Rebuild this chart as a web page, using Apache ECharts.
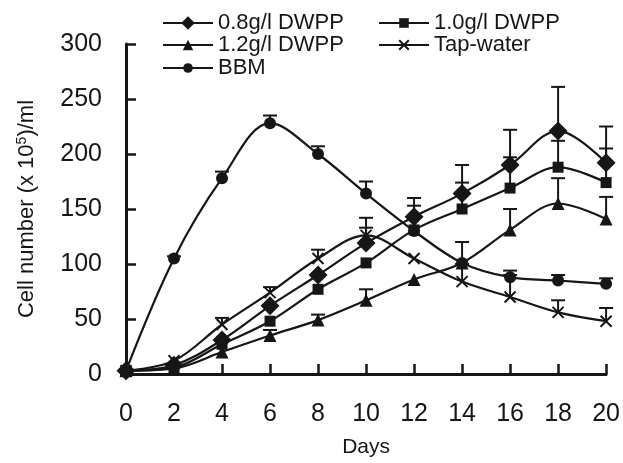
<!DOCTYPE html>
<html>
<head>
<meta charset="utf-8">
<script src="https://cdn.jsdelivr.net/npm/echarts@6/dist/echarts.min.js"></script>
<style>
  html, body { margin: 0; padding: 0; background: #fff; }
  #chart { width: 623px; height: 463px; }
</style>
</head>
<body>
<div id="chart"></div>
<script>
// days and cell numbers (x 10^5 /ml)
var days = [0, 2, 4, 6, 8, 10, 12, 14, 16, 18, 20];
var dwpp08 = [3, 8, 31, 62, 90, 119, 143, 164, 190, 221, 192];
var dwpp10 = [3, 6, 27, 48, 77, 101, 131, 150, 169, 188, 174];
var dwpp12 = [3, 5, 20, 35, 49, 67, 86, 101, 131, 155, 141];
var tapWater = [3, 12, 45, 74, 105, 126, 105, 84, 70, 56, 48];
var bbm = [3, 105, 178, 228, 200, 164, 130, 101, 88, 85, 82];

// top of the error bars (null = no bar visible)
var dwpp08Err = [null, null, null, null, null, 133, 160, 190, 222, 261, 225];
var dwpp10Err = [null, null, null, null, null, null, 153, 174, 197, 212, 205];
var dwpp12Err = [null, null, null, 40, 54, 77, null, null, 150, 178, 161];
var tapErr = [null, null, 51, 79, 113, 142, null, 100, 90, 67, 60];
var bbmErr = [null, 107, 184, 235, 207, 175, null, 120, 94, 90, 87];

var yTicks = [0, 50, 100, 150, 200, 250, 300];

var black = '#161616';
var font = '"Liberation Sans", Arial, sans-serif';
var crossPath = 'path://M0,0L10,10M0,10L10,0';

function pairs(vals) {
    var out = [];
    for (var i = 0; i < days.length; i++) out.push([days[i], vals[i]]);
    return out;
}

function errData(vals, tops) {
    var out = [];
    for (var i = 0; i < days.length; i++) {
        if (tops[i] !== null) out.push([days[i], vals[i], tops[i]]);
    }
    return out;
}

function renderErr(params, api) {
    var p = api.coord([api.value(0), api.value(1)]);
    var t = api.coord([api.value(0), api.value(2)]);
    var st = { stroke: black, lineWidth: 2 };
    return {
        type: 'group',
        children: [
            { type: 'line', shape: { x1: p[0], y1: p[1], x2: t[0], y2: t[1] }, style: st },
            { type: 'line', shape: { x1: t[0] - 7, y1: t[1], x2: t[0] + 7, y2: t[1] }, style: st }
        ]
    };
}

function errSeries(vals, tops) {
    return {
        type: 'custom',
        renderItem: renderErr,
        data: errData(vals, tops),
        encode: { x: 0, y: 1 },
        z: 1,
        silent: true
    };
}

function lineSeries(name, vals, symbol, size, extraItem) {
    return {
        name: name,
        type: 'line',
        data: pairs(vals),
        smooth: 0.35,
        symbol: symbol,
        symbolSize: size,
        showAllSymbol: true,
        lineStyle: { color: black, width: 2.2 },
        itemStyle: Object.assign({ color: black }, extraItem || {}),
        z: 3,
        animation: false
    };
}

function oneLegend(name, left, top, h) {
    return {
        data: [name],
        left: left,
        top: top,
        orient: 'vertical',
        itemWidth: 50,
        itemHeight: h,
        itemGap: 0,
        padding: 0,
        selectedMode: false,
        textStyle: { fontSize: 22, color: black, fontFamily: font, padding: [0, 0, 0, 0] }
    };
}

var chart = echarts.init(document.getElementById('chart'));
chart.setOption({
    backgroundColor: '#fff',
    animation: false,
    legend: [
        oneLegend('0.8g/l DWPP', 162, 12, 17),
        oneLegend('1.2g/l DWPP', 162, 34, 13),
        oneLegend('BBM', 162, 57, 12),
        oneLegend('1.0g/l DWPP', 378, 12, 12),
        oneLegend('Tap-water', 378, 34, 12)
    ],
    grid: { left: 126, right: 16, top: 44, bottom: 80.5, containLabel: false },
    xAxis: {
        type: 'value',
        min: 0,
        max: 20,
        interval: 2,
        name: 'Days',
        nameLocation: 'middle',
        nameGap: 63,
        nameTextStyle: { fontSize: 21, color: black, fontFamily: font },
        axisLine: { lineStyle: { color: black, width: 3 } },
        axisTick: { inside: true, length: 10, lineStyle: { color: black, width: 2.5 } },
        axisLabel: { fontSize: 25, color: black, fontFamily: font, margin: 28 },
        splitLine: { show: false }
    },
    yAxis: {
        type: 'value',
        min: yTicks[0],
        max: yTicks[yTicks.length - 1],
        interval: 50,
        name: 'Cell number (x 10{sup|5})/ml',
        nameLocation: 'middle',
        nameGap: 87,
        nameTextStyle: {
            fontSize: 22, color: black, fontFamily: font,
            rich: { sup: { fontSize: 14, color: black, fontFamily: font, verticalAlign: 'top', padding: [0, 0, 10, 0] } }
        },
        axisLine: { show: true, lineStyle: { color: black, width: 3 } },
        axisTick: { show: true, inside: true, length: 10, lineStyle: { color: black, width: 2.5 } },
        axisLabel: { fontSize: 25, color: black, fontFamily: font, margin: 24 },
        splitLine: { show: false }
    },
    series: [
        errSeries(dwpp08, dwpp08Err),
        errSeries(dwpp10, dwpp10Err),
        errSeries(dwpp12, dwpp12Err),
        errSeries(tapWater, tapErr),
        errSeries(bbm, bbmErr),
        lineSeries('0.8g/l DWPP', dwpp08, 'diamond', 19),
        lineSeries('1.0g/l DWPP', dwpp10, 'rect', 11),
        lineSeries('1.2g/l DWPP', dwpp12, 'triangle', 13),
        lineSeries('Tap-water', tapWater, crossPath, 11, { borderColor: black, borderWidth: 2 }),
        lineSeries('BBM', bbm, 'circle', 12)
    ]
});
</script>
</body>
</html>
